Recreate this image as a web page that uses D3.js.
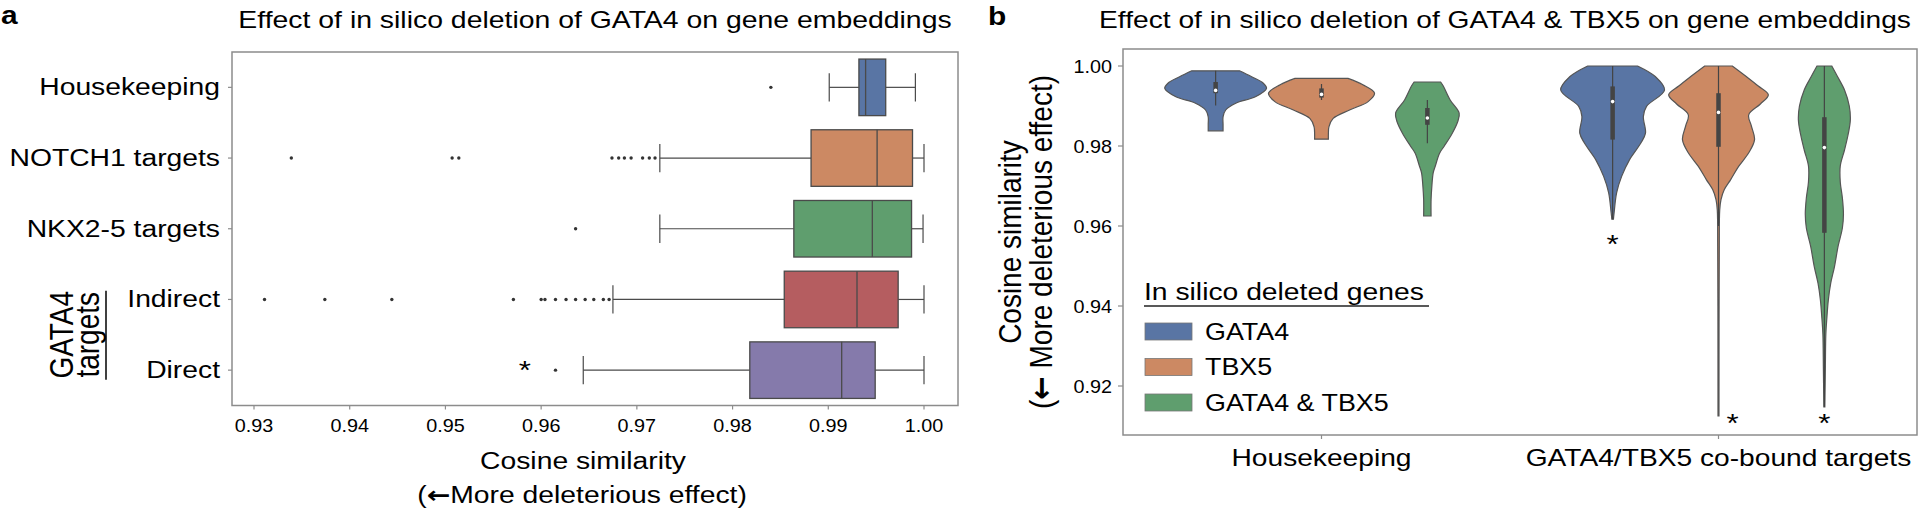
<!DOCTYPE html>
<html><head><meta charset="utf-8">
<script src="https://cdn.jsdelivr.net/npm/d3@7"></script>
<style>
body{margin:0;background:#fff}
svg{display:block}
text{font-family:"Liberation Sans",Arial,Helvetica,sans-serif;fill:#000}
.arrow{font-family:"DejaVu Sans",sans-serif;font-weight:700}
</style>
</head><body>
<svg id="c" width="1922" height="509"></svg>
<script>
// ================= DATA =================
// Panel a : box plots (cosine similarity)
const boxCategories = ["Housekeeping","NOTCH1 targets","NKX2-5 targets","Indirect","Direct"];
const boxQ1          = [0.9932, 0.9882, 0.9864, 0.9854, 0.9818];
const boxMedian      = [0.9939, 0.9951, 0.9946, 0.9930, 0.9914];
const boxQ3          = [0.9960, 0.9988, 0.9987, 0.9973, 0.9949];
const boxWhiskerLow  = [0.9901, 0.9724, 0.9724, 0.9675, 0.9644];
const boxWhiskerHigh = [0.9991, 1.0000, 0.9999, 1.0000, 1.0000];
const boxOutliers = [
  [0.9840],
  [0.9339,0.9507,0.9514,0.9674,0.9681,0.9687,0.9694,0.9706,0.9713,0.9719],
  [0.9636],
  [0.9311,0.9374,0.9444,0.9571,0.9600,0.9604,0.9615,0.9626,0.9636,0.9646,0.9655,0.9665,0.9671],
  [0.9615]
];
const boxTicks = [0.93,0.94,0.95,0.96,0.97,0.98,0.99,1.00];
const boxStar  = {category:"Direct", value:0.9583};

// Panel b : violin plots
const violinGroups = ["Housekeeping","GATA4/TBX5 co-bound targets"];
const violinHues   = ["GATA4","TBX5","GATA4 & TBX5"];
// density profiles [value, relative density]
const hkGata4 = [[0.9988,0.45],[0.9973,0.68],[0.9957,0.90],[0.9944,0.96],[0.9923,0.75],[0.9907,0.38],[0.9890,0.19],[0.9873,0.14],[0.9855,0.14],[0.9838,0.14]];
const hkTbx5  = [[0.9969,0.50],[0.9953,0.78],[0.9932,1.00],[0.9911,0.88],[0.9890,0.53],[0.9869,0.22],[0.9848,0.14],[0.9830,0.13],[0.9817,0.13]];
const hkBoth  = [[0.9960,0.25],[0.9950,0.30],[0.9915,0.43],[0.9882,0.60],[0.9860,0.57],[0.9832,0.47],[0.9800,0.32],[0.9782,0.23],[0.9750,0.15],[0.9733,0.11],[0.9700,0.085],[0.9666,0.07],[0.9625,0.07]];
const cbGata4 = [[1.0000,0.47],[0.9973,0.81],[0.9940,0.98],[0.9899,0.64],[0.9874,0.58],[0.9832,0.62],[0.9807,0.53],[0.9766,0.32],[0.9724,0.17],[0.9683,0.075],[0.9633,0.028],[0.9617,0.015]];
const cbTbx5  = [[1.0000,0.26],[0.9973,0.53],[0.9950,0.75],[0.9928,0.94],[0.9905,0.79],[0.9878,0.57],[0.9850,0.62],[0.9816,0.68],[0.9783,0.57],[0.9749,0.38],[0.9716,0.23],[0.9691,0.11],[0.9666,0.047],[0.9640,0.023],[0.9550,0.015],[0.9400,0.011],[0.9125,0.009]];
const cbBoth  = [[1.0000,0.14],[0.9973,0.25],[0.9940,0.38],[0.9900,0.47],[0.9865,0.49],[0.9830,0.45],[0.9790,0.38],[0.9750,0.30],[0.9710,0.30],[0.9670,0.34],[0.9630,0.36],[0.9595,0.34],[0.9550,0.26],[0.9498,0.19],[0.9457,0.12],[0.9415,0.075],[0.9370,0.047],[0.9330,0.028],[0.9250,0.019],[0.9207,0.015],[0.9148,0.009]];
const violinProfiles = [[hkGata4,hkTbx5,hkBoth],[cbGata4,cbTbx5,cbBoth]];
const violinQ1     = [[0.9932,0.9921,0.9853],[0.9816,0.9798,0.9583]];
const violinMedian = [[0.9939,0.9929,0.9870],[0.9911,0.9884,0.9796]];
const violinQ3     = [[0.9960,0.9944,0.9895],[0.9949,0.9932,0.9872]];
const violinLow    = [[0.9901,0.9915,0.9807],[0.9617,0.9600,0.9148]];
const violinHigh   = [[0.9988,0.9955,0.9915],[1.0000,1.0000,1.0000]];
const violinTicks  = [0.92,0.94,0.96,0.98,1.00];
const violinStars  = [{group:1,hue:0,value:0.9554,dx:0},{group:1,hue:1,value:0.9108,dx:14},{group:1,hue:2,value:0.9108,dx:0}];

// ================= STYLE =================
const boxColors    = ["#5975a4","#cc8963","#5f9e6e","#b55d60","#857aab"];
const violinColors = ["#5975a4","#cc8963","#5f9e6e"];
const SX = 1.2;            // horizontal glyph stretch of the reference
const frameColor = "#8c8c8c";
const lineColor  = "#4a4a4a";

const svg = d3.select("#c");

function addText(parent, x, y, str, o={}) {
  const sx = o.sx ?? SX;
  const t = parent.append("text")
    .attr("transform", `translate(${x},${y}) scale(${sx},1)` + (o.rot ? ` rotate(${o.rot})` : ""))
    .attr("font-size", o.size || 23)
    .attr("text-anchor", o.anchor || "start")
    .attr("font-weight", o.weight || 400);
  if (o.baseline) t.attr("dominant-baseline", o.baseline);
  t.text(str);
  return t;
}

// ================= PANEL A =================
const A = {l:232, r:958, t:52, b:405.5};
const ax = d3.scaleLinear().domain([0.93,1.00]).range([254,924]);
const ay = d3.scaleBand().domain(boxCategories).range([A.t,A.b]);
const ga = svg.append("g");

addText(ga, 1, 24, "a", {size:26, weight:700, sx:1.15});
addText(ga, (A.l+A.r)/2, 28, "Effect of in silico deletion of GATA4 on gene embeddings", {size:23, anchor:"middle", sx:1.235});

boxCategories.forEach((c,i)=>{
  const cy = ay(c) + ay.bandwidth()/2, h = ay.bandwidth()*0.8;
  const g = ga.append("g");
  g.append("line").attr("x1",ax(boxWhiskerLow[i])).attr("x2",ax(boxQ1[i])).attr("y1",cy).attr("y2",cy)
    .attr("stroke",lineColor).attr("stroke-width",1.2);
  g.append("line").attr("x1",ax(boxQ3[i])).attr("x2",ax(boxWhiskerHigh[i])).attr("y1",cy).attr("y2",cy)
    .attr("stroke",lineColor).attr("stroke-width",1.2);
  [boxWhiskerLow[i], boxWhiskerHigh[i]].forEach(v=>{
    g.append("line").attr("x1",ax(v)).attr("x2",ax(v)).attr("y1",cy-h/4).attr("y2",cy+h/4)
      .attr("stroke",lineColor).attr("stroke-width",1.2);
  });
  g.append("rect").attr("x",ax(boxQ1[i])).attr("y",cy-h/2).attr("width",ax(boxQ3[i])-ax(boxQ1[i])).attr("height",h)
    .attr("fill",boxColors[i]).attr("stroke",lineColor).attr("stroke-width",1.3);
  g.append("line").attr("x1",ax(boxMedian[i])).attr("x2",ax(boxMedian[i])).attr("y1",cy-h/2).attr("y2",cy+h/2)
    .attr("stroke",lineColor).attr("stroke-width",1.3);
  g.selectAll("circle").data(boxOutliers[i]).join("circle")
    .attr("cx",d=>ax(d)).attr("cy",cy).attr("r",1.7).attr("fill","#333");
  ga.append("line").attr("x1",A.l-4).attr("x2",A.l).attr("y1",cy).attr("y2",cy).attr("stroke",frameColor).attr("stroke-width",1.2);
  addText(ga, 220, cy, c, {size:23, anchor:"end", baseline:"central", sx:1.23});
});
ga.append("rect").attr("x",A.l).attr("y",A.t).attr("width",A.r-A.l).attr("height",A.b-A.t)
  .attr("fill","none").attr("stroke",frameColor).attr("stroke-width",1.5);
boxTicks.forEach(v=>{
  ga.append("line").attr("x1",ax(v)).attr("x2",ax(v)).attr("y1",A.b).attr("y2",A.b+4).attr("stroke",frameColor).attr("stroke-width",1.2);
  addText(ga, ax(v), 432, d3.format(".2f")(v), {size:18, anchor:"middle", sx:1.1});
});
{
  const cy = ay(boxStar.category) + ay.bandwidth()/2;
  addText(ga, ax(boxStar.value), cy+9, "*", {size:26, anchor:"middle", sx:1.2});
}
addText(ga, 583, 469, "Cosine similarity", {size:23, anchor:"middle", sx:1.23});
{
  const t = addText(ga, 582, 503, "", {size:23, anchor:"middle", sx:1.23});
  t.append("tspan").text("(");
  t.append("tspan").attr("class","arrow").text("\u2190");
  t.append("tspan").text("More deleterious effect)");
}
{
  const cy = (ay("Indirect") + ay("Direct") + ay.bandwidth())/2;
  addText(ga, 73, cy, "GATA4", {size:28, anchor:"middle", rot:-90, sx:1.2});
  addText(ga, 99, cy, "targets", {size:28, anchor:"middle", rot:-90, sx:1.2});
  ga.append("line").attr("x1",106).attr("x2",106).attr("y1",cy-44).attr("y2",cy+45).attr("stroke","#000").attr("stroke-width",1.5);
}

// ================= PANEL B =================
const B = {l:1123, r:1917, t:49, b:435};
const by = d3.scaleLinear().domain([0.92,1.00]).range([386,66]);
const bx = d3.scaleBand().domain(violinGroups).range([B.l,B.r]);
const bh = d3.scaleBand().domain(violinHues).range([0, bx.bandwidth()*0.8]);
const bw = d3.scaleLinear().domain([0,1]).range([0,53]);
const hueCenter = (gi,hi) => bx(violinGroups[gi]) + bx.bandwidth()*0.1 + bh(violinHues[hi]) + bh.bandwidth()/2;
const gb = svg.append("g");

addText(gb, 988, 25, "b", {size:26, weight:700, sx:1.15});
addText(gb, 1505, 28, "Effect of in silico deletion of GATA4 & TBX5 on gene embeddings", {size:23, anchor:"middle", sx:1.225});

violinGroups.forEach((gName,gi)=>{
  violinHues.forEach((hName,hi)=>{
    const cx = hueCenter(gi,hi);
    const prof = violinProfiles[gi][hi];
    const area = d3.area().curve(d3.curveCatmullRom.alpha(0.5))
      .y(d=>by(d[0])).x0(d=>cx-bw(d[1])).x1(d=>cx+bw(d[1]));
    gb.append("path").attr("d",area(prof)).attr("fill",violinColors[hi])
      .attr("stroke","#555").attr("stroke-width",1.2);
    gb.append("line").attr("x1",cx).attr("x2",cx).attr("y1",by(violinHigh[gi][hi])).attr("y2",by(violinLow[gi][hi]))
      .attr("stroke","#444").attr("stroke-width",1.2);
    gb.append("line").attr("x1",cx).attr("x2",cx).attr("y1",by(violinQ3[gi][hi])).attr("y2",by(violinQ1[gi][hi]))
      .attr("stroke","#444").attr("stroke-width",4.5);
    gb.append("circle").attr("cx",cx).attr("cy",by(violinMedian[gi][hi])).attr("r",1.8).attr("fill","#fff");
  });
});
gb.append("rect").attr("x",B.l).attr("y",B.t).attr("width",B.r-B.l).attr("height",B.b-B.t)
  .attr("fill","none").attr("stroke",frameColor).attr("stroke-width",1.5);
violinTicks.forEach(v=>{
  gb.append("line").attr("x1",B.l-5).attr("x2",B.l).attr("y1",by(v)).attr("y2",by(v)).attr("stroke",frameColor).attr("stroke-width",1.2);
  addText(gb, 1112, by(v)+1, d3.format(".2f")(v), {size:18, anchor:"end", baseline:"central", sx:1.1});
});
violinGroups.forEach(gName=>{
  const cx = bx(gName) + bx.bandwidth()/2;
  gb.append("line").attr("x1",cx).attr("x2",cx).attr("y1",B.b).attr("y2",B.b+4).attr("stroke",frameColor).attr("stroke-width",1.2);
  addText(gb, cx, 466, gName, {size:23, anchor:"middle", sx:1.225});
});
violinStars.forEach(s=>{
  addText(gb, hueCenter(s.group,s.hue)+s.dx, by(s.value)+9, "*", {size:26, anchor:"middle", sx:1.2});
});
{
  const cy = (B.t+B.b)/2;
  addText(gb, 1021, cy, "Cosine similarity", {size:28, anchor:"middle", rot:-90, sx:1.15});
  const t = addText(gb, 1052, cy, "", {size:28, anchor:"middle", rot:-90, sx:1.15});
  t.append("tspan").text("(");
  t.append("tspan").attr("class","arrow").text("\u2190");
  t.append("tspan").text(" More deleterious effect)");
}
{
  addText(gb, 1144, 300, "In silico deleted genes", {size:23, sx:1.23});
  gb.append("line").attr("x1",1144).attr("x2",1429).attr("y1",306).attr("y2",306).attr("stroke","#222").attr("stroke-width",1.5);
  violinHues.forEach((h,i)=>{
    const yy = 323 + i*35.5;
    gb.append("rect").attr("x",1145).attr("y",yy).attr("width",47).attr("height",17)
      .attr("fill",violinColors[i]).attr("stroke","#777").attr("stroke-width",0.8);
    addText(gb, 1205, yy+8.5, h, {size:24, baseline:"central", sx:1.12});
  });
}
</script>
</body></html>
